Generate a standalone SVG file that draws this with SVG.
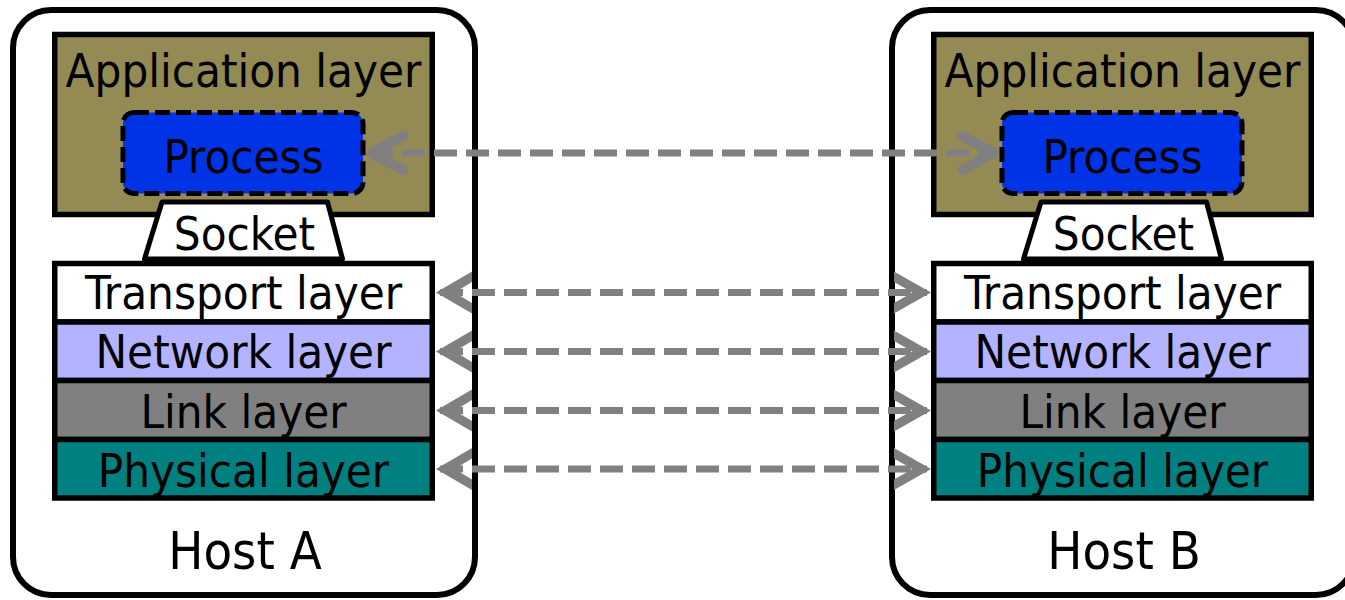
<svg xmlns="http://www.w3.org/2000/svg" xmlns:xlink="http://www.w3.org/1999/xlink" width="1345" height="600" viewBox="0 0 1345 600">
<style>
text{font-family:"DejaVu Sans Condensed","DejaVu Sans",sans-serif;font-stretch:condensed;font-size:47px;fill:#000;text-anchor:middle}
.host{fill:#fff;stroke:#000;stroke-width:6}
.hostlbl{font-size:52px}
.app{fill:#948A54;stroke:#000;stroke-width:5.5}
.proc{fill:#0033E6;stroke:#000;stroke-width:5;stroke-dasharray:15 6}
.sock{fill:#fff;stroke:#000;stroke-width:5;stroke-linejoin:round}
.lay{stroke:#000;stroke-width:5.5}
.conn{stroke:#808080;stroke-width:7;fill:none;stroke-dasharray:23 9}
.head{fill:none;stroke:#808080;stroke-width:10;stroke-linecap:round;stroke-linejoin:round}
.chev{fill:#808080}
</style>
<defs>
<path id="chevL" d="M436,0 L472,-21 L472,-10.5 L454.5,0 L472,10.5 L472,21 Z"/>
<path id="chevR" d="M931,0 L894,-21 L894,-10.5 L912.5,0 L894,10.5 L894,21 Z"/>
</defs>
<g id="hostA">
<rect class="host" x="13" y="10" width="462" height="585" rx="38"/>
<rect class="app" x="54.75" y="34.5" width="377.5" height="180"/>
<text x="243.5" y="87">Application layer</text>
<rect class="proc" x="123" y="112.5" width="240" height="81" rx="11"/>
<text x="243.5" y="173">Process</text>
<polygon class="sock" points="162,202 327.5,202 342.5,259 144.5,259"/>
<text x="244.5" y="250">Socket</text>
<rect class="lay" fill="#fff" x="54.75" y="263.5" width="377.5" height="58.5"/>
<rect class="lay" fill="#B3B3FF" x="54.75" y="322" width="377.5" height="58.5"/>
<rect class="lay" fill="#808080" x="54.75" y="380.5" width="377.5" height="59"/>
<rect class="lay" fill="#008080" x="54.75" y="439.5" width="377.5" height="58.5"/>
<text x="243.5" y="309">Transport layer</text>
<text x="243.5" y="368">Network layer</text>
<text x="243.5" y="428">Link layer</text>
<text x="243.5" y="487">Physical layer</text>
<text class="hostlbl" x="245" y="569">Host A</text>
</g>
<g id="hostB">
<rect class="host" x="892" y="10" width="462" height="585" rx="38"/>
<rect class="app" x="933.75" y="34.5" width="377.5" height="180"/>
<text x="1122.5" y="87">Application layer</text>
<rect class="proc" x="1002" y="112.5" width="240" height="81" rx="11"/>
<text x="1122.5" y="173">Process</text>
<polygon class="sock" points="1041,202 1206.5,202 1221.5,259 1023.5,259"/>
<text x="1123.5" y="250">Socket</text>
<rect class="lay" fill="#fff" x="933.75" y="263.5" width="377.5" height="58.5"/>
<rect class="lay" fill="#B3B3FF" x="933.75" y="322" width="377.5" height="58.5"/>
<rect class="lay" fill="#808080" x="933.75" y="380.5" width="377.5" height="59"/>
<rect class="lay" fill="#008080" x="933.75" y="439.5" width="377.5" height="58.5"/>
<text x="1122.5" y="309">Transport layer</text>
<text x="1122.5" y="368">Network layer</text>
<text x="1122.5" y="428">Link layer</text>
<text x="1122.5" y="487">Physical layer</text>
<text class="hostlbl" x="1124" y="569">Host B</text>
</g>
<g id="connectors">
<line class="conn" x1="370" y1="153" x2="995" y2="153"/>
<polyline class="head" points="403,136 371,153 403,170"/>
<polyline class="head" points="962,136 994,153 962,170"/>
<line class="conn" x1="440" y1="292.5" x2="927" y2="292.5"/>
<line class="conn" x1="440" y1="351.5" x2="927" y2="351.5"/>
<line class="conn" x1="440" y1="410.5" x2="927" y2="410.5"/>
<line class="conn" x1="440" y1="469" x2="927" y2="469"/>
<use href="#chevL" class="chev" transform="translate(0,292.5)"/>
<use href="#chevR" class="chev" transform="translate(0,292.5)"/>
<use href="#chevL" class="chev" transform="translate(0,351.5)"/>
<use href="#chevR" class="chev" transform="translate(0,351.5)"/>
<use href="#chevL" class="chev" transform="translate(0,410.5)"/>
<use href="#chevR" class="chev" transform="translate(0,410.5)"/>
<use href="#chevL" class="chev" transform="translate(0,469)"/>
<use href="#chevR" class="chev" transform="translate(0,469)"/>
</g>
</svg>
